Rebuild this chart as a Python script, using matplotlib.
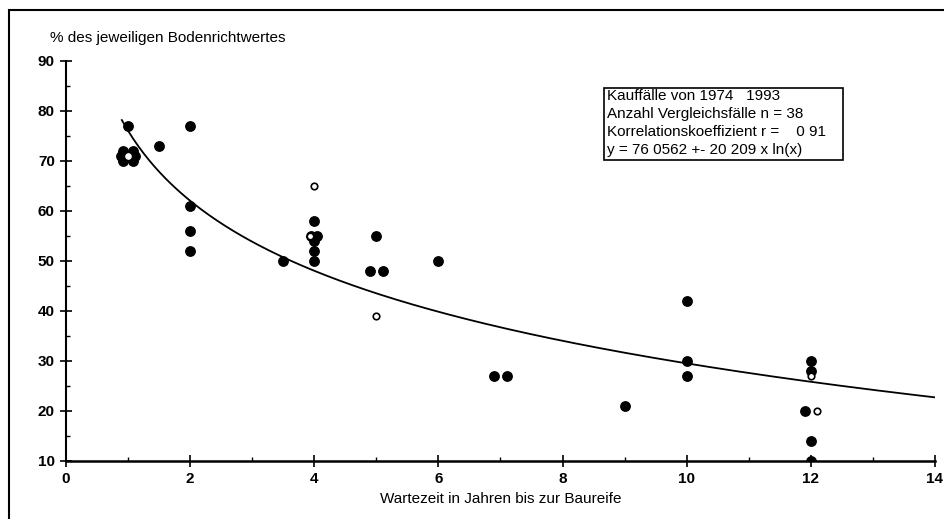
import numpy as np
import matplotlib
matplotlib.use('Agg')
import matplotlib.pyplot as plt
from matplotlib.patches import Rectangle

plt.rcParams['font.family'] = ['Liberation Sans', 'DejaVu Sans']

# filled points (Wartezeit in Jahren, % des Bodenrichtwertes)
wait_filled = [1.0, 0.92, 1.08, 0.88, 1.12, 0.92, 1.08, 1.5,
               2, 2, 2, 2, 3.5,
               4, 4, 3.95, 4.05, 4, 4,
               4.9, 5.1, 5, 6, 6.9, 7.1, 9,
               10, 10, 10,
               12, 12, 11.9, 12, 12]
pct_filled = [77, 70.0, 70.0, 71, 71, 72.0, 72.0, 73,
              77, 61, 56, 52, 50,
              58, 54, 55, 55, 52, 50,
              48, 48, 55, 50, 27, 27, 21,
              42, 30, 27,
              30, 28, 20, 14, 10]
# open points
wait_open = [4, 3.93, 5, 12, 12.1]
pct_open = [65, 55, 39, 27, 20]

# regression y = a - b * ln(x)
a_coef = 76.0562
b_coef = 20.209
curve_x = np.linspace(0.9, 14, 300)
curve_y = a_coef - b_coef * np.log(curve_x)

box_lines = ['Kauffälle von 1974   1993',
             'Anzahl Vergleichsfälle n = 38',
             'Korrelationskoeffizient r =    0 91',
             'y = 76 0562 +- 20 209 x ln(x)']

fig = plt.figure(figsize=(9.45, 5.19), dpi=100)
ax = fig.add_axes([0.0698, 0.1118, 0.9196, 0.7707])

ax.plot(curve_x, curve_y, color='black', lw=1.3, zorder=2)
ax.scatter(wait_filled, pct_filled, s=46, color='black', zorder=3)
ax.scatter(wait_open, pct_open, s=22, facecolor='white', edgecolor='black',
           linewidth=1.2, zorder=4)
# white centre of the cluster at one year
ax.scatter([1.0], [71], s=14, color='white', zorder=5)

ax.set_xlim(0, 14)
ax.set_ylim(10, 90)
ax.set_xticks(range(0, 15, 2))
ax.set_xticks(range(0, 15), minor=True)
ax.set_yticks(range(10, 91, 10))
ax.set_yticks(range(10, 91, 5), minor=True)
for s in ['top', 'right']:
    ax.spines[s].set_visible(False)
ax.spines['left'].set_linewidth(1.5)
ax.spines['bottom'].set_linewidth(1.8)
ax.tick_params(which='major', direction='inout', length=8, width=1.2,
               labelsize=11, pad=4)
ax.tick_params(which='minor', direction='in', length=3, width=1)
for lab in ax.get_xticklabels() + ax.get_yticklabels():
    lab.set_fontweight('bold')

ax.set_xlabel('Wartezeit in Jahren bis zur Baureife', fontsize=11, labelpad=4)

fig.text(50 / 945, 1 - 38 / 519, '% des jeweiligen Bodenrichtwertes',
         fontsize=11, va='center', ha='left')

# info box
ax.add_patch(Rectangle((8.66, 70.2), 3.86, 14.4, facecolor='white',
                       edgecolor='black', lw=1.2, zorder=6))
for i, line in enumerate(box_lines):
    ax.text(8.72, 82.9 - i * 3.55, line, fontsize=11, va='center',
            ha='left', zorder=7)

# outer frame
fig.patches.append(Rectangle((9 / 945, -0.1), 1.2, 1 - 10 / 519 + 0.1,
                             transform=fig.transFigure, fill=False,
                             edgecolor='black', lw=1.5))

fig.savefig('out.png')
